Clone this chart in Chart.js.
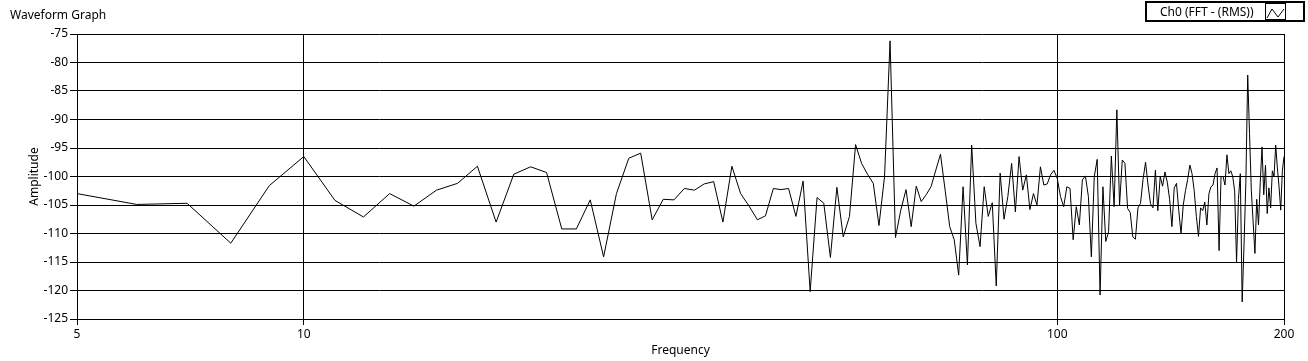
<!DOCTYPE html>
<html><head><meta charset="utf-8">
<script src="https://cdn.jsdelivr.net/npm/chart.js@4.4.1/dist/chart.umd.min.js"></script>
<style>html,body{margin:0;padding:0;background:#fff;}#wrap{position:relative;width:1308px;height:361px;}</style>
</head><body><div id="wrap"><canvas id="c" width="1308" height="361"></canvas></div>
<script>
const graphTitle = "Waveform Graph";
const seriesName = "Ch0 (FFT - (RMS))";
const xTitle = "Frequency";
const yTitle = "Amplitude";
const xTickValues = [5, 10, 100, 200];
const yMin = -125, yMax = -75, yStep = 5;

// Frequencies (Hz)
const freqLow = [5,6,7,8,9,10,11,12,13,14,15,16,17,18,19,20,21,22,23,24,25,26,27,28,29,30,31,32,33,34,35,36,37,38,39,40,41,42,43,44,45,46,47,48,49];
const freqMid = [50,51,52,53,54,55,56,57,58,59,60,61,62,63,64,65,66,67,68,69,70,71,72,73,74,75,76,77,78,79,80,81,82,83,84,85,86,87,88,89,90,91,92,93,94,95,96,97,98,99];
const freqHigh1 = [100,101,102,103,104,105,106,107,108,109,110,111,112,113,114,115,116,117,118,119,120,121,122,123,124,125,126,127,128,129,130,131,132,133,134,135,136,137,138,139,140,141,142,143,144,145,146,147,148,149];
const freqHigh2 = [150,151,152,153,154,155,156,157,158,159,160,161,162,163,164,165,166,167,168,169,170,171,172,173,174,175,176,177,178,179,180,181,182,183,184,185,186,187,188,189,190,191,192,193,194,195,196,197,198,199,200];

// Amplitudes (dB)
const ampLow = [-103.0,-104.9,-104.7,-111.7,-101.6,-96.5,-104.2,-107.1,-103.0,-105.2,
  -102.4,-101.2,-98.2,-108.0,-99.6,-98.3,-99.3,-109.2,-109.2,-104.1,
  -114.1,-103.0,-96.8,-95.9,-107.6,-104.0,-104.1,-102.1,-102.4,-101.3,
  -100.9,-108.0,-98.2,-103.0,-105.2,-107.6,-106.9,-102.1,-102.3,-102.1,
  -107.0,-100.8,-120.2,-103.7,-104.7];
const ampMid = [-114.2,-101.9,-110.6,-107.0,-94.4,-97.7,-99.6,-101.2,-108.6,-100.0,
  -76.2,-110.7,-105.9,-102.3,-108.8,-101.7,-104.4,-103.2,-101.8,-98.9,
  -96.1,-102.4,-108.8,-111.1,-117.3,-101.8,-115.5,-94.5,-108.2,-112.3,
  -101.8,-107.0,-104.6,-119.2,-99.4,-107.5,-103.5,-97.7,-106.2,-96.5,
  -102.4,-99.7,-105.8,-103.0,-105.0,-98.3,-101.5,-101.3,-99.7,-98.9];
const ampHigh1 = [-100.3,-103.5,-105.3,-101.8,-102.1,-111.1,-105.3,-108.5,-100.6,-99.9,
  -103.5,-114.1,-100.0,-97.0,-120.8,-101.8,-111.4,-109.7,-96.4,-105.3,
  -88.3,-105.0,-97.1,-97.7,-105.6,-106.3,-110.6,-111.0,-105.5,-104.7,
  -100.5,-97.5,-101.5,-104.8,-105.5,-98.9,-106.0,-100.0,-101.7,-99.2,
  -101.0,-104.0,-108.8,-102.0,-101.2,-106.0,-110.0,-105.0,-102.5,-100.5];
const ampHigh2 = [-98.0,-99.5,-102.5,-107.0,-110.5,-105.5,-106.0,-104.5,-108.5,-103.0,
  -101.8,-101.5,-99.5,-98.5,-113.0,-100.0,-100.0,-101.5,-96.2,-99.5,
  -99.0,-100.0,-102.5,-115.0,-104.0,-99.5,-122.0,-112.0,-101.0,-82.2,
  -92.5,-102.5,-108.0,-113.5,-104.0,-108.5,-101.0,-94.8,-103.2,-98.0,
  -106.5,-102.0,-105.5,-99.0,-100.0,-94.5,-98.5,-101.8,-105.9,-99.0,
  -96.5];

const freqs = [].concat(freqLow, freqMid, freqHigh1, freqHigh2);
const amps = [].concat(ampLow, ampMid, ampHigh1, ampHigh2);
const points = freqs.map((f, i) => ({ x: f, y: amps[i] }));

const FONT = "'Noto Sans', 'Open Sans', sans-serif";

const extras = {
  id: 'extras',
  afterDraw(chart) {
    const ctx = chart.ctx;
    ctx.save();
    ctx.fillStyle = '#000';
    ctx.font = '12px ' + FONT;
    ctx.textBaseline = 'alphabetic';
    ctx.textAlign = 'left';
    ctx.fillText(graphTitle, 10, 19);
    // axis titles
    ctx.textAlign = 'center';
    ctx.textBaseline = 'middle';
    const ca = chart.chartArea;
    ctx.fillText(xTitle, (ca.left + ca.right) / 2, 351);
    ctx.save();
    ctx.translate(35, (ca.top + ca.bottom) / 2);
    ctx.rotate(-Math.PI / 2);
    ctx.fillText(yTitle, 0, 0);
    ctx.restore();
    // legend box
    ctx.strokeStyle = '#000';
    ctx.lineWidth = 2;
    ctx.fillStyle = '#fff';
    ctx.fillRect(1146, 2, 158, 19);
    ctx.strokeRect(1146, 2, 158, 19);
    ctx.fillStyle = '#000';
    ctx.textAlign = 'left';
    ctx.textBaseline = 'alphabetic';
    ctx.fillText(seriesName, 1160, 16);
    ctx.lineWidth = 1;
    ctx.strokeRect(1265.5, 3.5, 20, 16);
    ctx.beginPath();
    ctx.moveTo(1267, 18);
    ctx.lineTo(1272, 9);
    ctx.lineTo(1278, 17);
    ctx.lineTo(1284, 9);
    ctx.stroke();
    ctx.restore();
  }
};

new Chart(document.getElementById('c'), {
  type: 'line',
  data: {
    datasets: [{
      label: seriesName,
      data: points,
      borderColor: '#000',
      borderWidth: 1,
      pointRadius: 0,
      tension: 0,
      fill: false
    }]
  },
  options: {
    responsive: false,
    animation: false,
    devicePixelRatio: 1,
    layout: { padding: { left: 0, top: 34, right: 24, bottom: 0 } },
    plugins: { legend: { display: false }, title: { display: false }, tooltip: { enabled: false } },
    scales: {
      x: {
        type: 'logarithmic',
        min: 5, max: 200,
        afterBuildTicks(s) { s.ticks = xTickValues.map(v => ({ value: v })); },
        afterFit(s) { s.height = 42; },
        grid: { color: '#000', lineWidth: 1, tickLength: 6, tickColor: '#000', drawOnChartArea: true },
        border: { color: '#000', width: 1 },
        ticks: { color: '#000', font: { family: FONT, size: 12 }, padding: 2, maxRotation: 0, autoSkip: false,
          callback: (v) => String(v) }
      },
      y: {
        min: yMin, max: yMax,
        afterFit(s) { s.width = 77; },
        grid: { color: '#000', lineWidth: 1, tickLength: 7, tickColor: '#000' },
        border: { color: '#000', width: 1 },
        ticks: { stepSize: yStep, color: '#000', font: { family: FONT, size: 12 }, padding: 2,
          callback: (v) => String(v) }
      }
    }
  },
  plugins: [extras]
});
</script></body></html>
